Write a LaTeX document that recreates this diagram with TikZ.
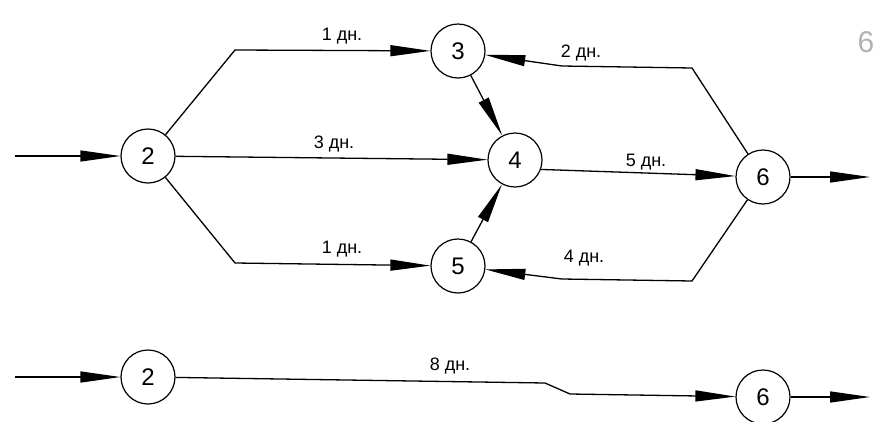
\documentclass[tikz,border=0pt]{standalone}
\usepackage{fontspec}
\setmainfont{Liberation Sans}
\usetikzlibrary{arrows.meta}
\begin{document}
\begin{tikzpicture}[x=1pt,y=-1pt,
  ev/.style={circle, draw, line width=1.2pt, minimum size=54pt, inner sep=0pt, font=\fontsize{24}{24}\selectfont},
  con/.style={line width=1.3pt, -{Triangle[length=40pt,width=11pt]}},
  lab/.style={font=\fontsize{18}{18}\selectfont, anchor=base, inner sep=0pt}]
\useasboundingbox (0,0) rectangle (895,421);
% nodes
\node[ev] (n2) at (148,156) {2};
\node[ev] (n3) at (458,51) {3};
\node[ev] (n4) at (515,160) {4};
\node[ev] (n5) at (458,266) {5};
\node[ev] (n6) at (763,177) {6};
\node[ev] (b2) at (148,377) {2};
\node[ev] (b6) at (763,397) {6};
% free ends and bends
\coordinate (in1) at (15,156);
\coordinate (out1) at (870,177);
\coordinate (in2) at (15,377);
\coordinate (out2) at (870,397);
\coordinate (c23) at (235,50);
\coordinate (c25) at (235,263);
\coordinate (c63) at (692,68);
\coordinate (m63) at (562,66);
\coordinate (c65) at (692,281);
\coordinate (m65) at (562,279);
\coordinate (k1) at (545,383);
\coordinate (k2) at (570,394);
% connectors
\draw[con] (in1) -- (n2);
\draw[con] (n2) -- (c23) -- (n3);
\draw[con] (n2) -- (n4);
\draw[con] (n2) -- (c25) -- (n5);
\draw[con] (n3) -- (n4);
\draw[con] (n5) -- (n4);
\draw[con] (n4.-20) -- (n6);
\draw[con] (n6) -- (out1);
\draw[con] (n6) -- (c63) -- (m63) -- (n3);
\draw[con] (n6) -- (c65) -- (m65) -- (n5);
\draw[con] (in2) -- (b2);
\draw[con] (b2) -- (k1) -- (k2) -- (b6);
\draw[con] (b6) -- (out2);
% labels
\node[lab] (l23) at (342,40) {1 дн.};
\node[lab] (l24) at (334,148) {3 дн.};
\node[lab] (l25) at (342,253) {1 дн.};
\node[lab] (l46) at (646,166) {5 дн.};
\node[lab] (l63) at (581,57) {2 дн.};
\node[lab] (l65) at (584,262) {4 дн.};
\node[lab] (l26) at (450,370) {8 дн.};
\node[font=\fontsize{30}{30}\selectfont, text=gray!60] (hw) at (866,42) {6};
\end{tikzpicture}
\end{document}
